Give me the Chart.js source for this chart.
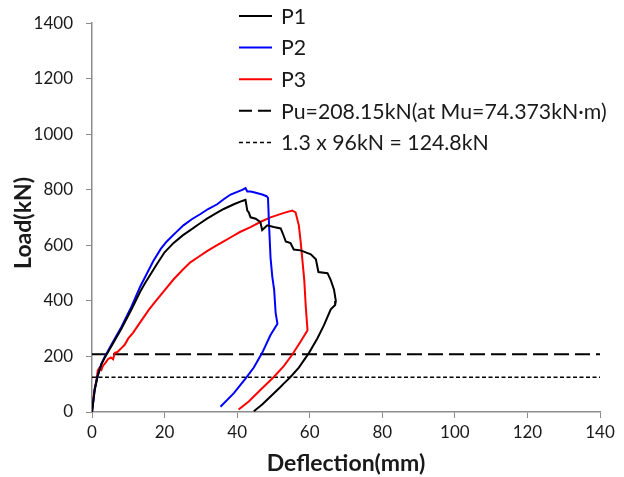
<!DOCTYPE html>
<html>
<head>
<meta charset="utf-8">
<script src="https://cdn.jsdelivr.net/npm/chart.js@4"></script>
<style>
  html, body { margin: 0; padding: 0; background: #fff; }
  #wrap { width: 624px; height: 477px; }
</style>
</head>
<body>
<div id="wrap"><canvas id="chart"></canvas></div>
<script>
// --- data (deflection mm / load kN) ---
const p1X = [0, 0.75, 1.5, 2.6, 3.5, 5.3, 8.1, 10.9, 13.3, 14.6, 17.9, 20, 22.5, 25, 27.1, 29.5, 31.7, 34, 36.3, 39.1, 41.4, 42.3, 42.8, 43.2, 43.7, 45.1, 46.4, 46.9, 48.3, 50.1, 52, 52.9, 53.4, 54.7, 55.6, 57.5, 60.3, 61.7, 62.4, 64.9, 65.8, 66.7, 67.2, 67, 65.8, 63.9, 62.1, 59.8, 57, 54.7, 52.9, 52, 49.2, 46.9, 44.6];
const p1Y = [0, 80, 126, 172, 195, 236, 300, 370, 434, 464, 533, 575, 609, 636, 655, 677, 696, 714, 731, 748, 760, 764, 725, 719, 701, 696, 684, 655, 672, 666, 661, 632, 614, 608, 585, 582, 568, 550, 504, 500, 475, 440, 400, 385, 370, 312, 265, 213, 160, 126, 103, 91, 56, 27, 3];

const p2X = [0, 0.75, 1.5, 2.6, 3.5, 5.3, 8.1, 10.9, 13.3, 16.9, 19, 20.6, 23, 25.2, 27.5, 29.9, 32, 34.5, 36.3, 38.2, 41.4, 42.3, 42.8, 43.7, 44.6, 46.9, 48.1, 48.5, 48.8, 49.2, 49.7, 50.2, 50.6, 51.1, 49.2, 46.9, 44.6, 42.3, 39.1, 35.4];
const p2Y = [0, 82, 128, 174, 198, 241, 306, 380, 452, 544, 588, 614, 645, 672, 694, 713, 731, 748, 766, 783, 800, 806, 794, 794, 791, 783, 777, 771, 672, 556, 486, 440, 358, 318, 277, 213, 160, 120, 68, 19];

const p3X = [0, 0.55, 1.2, 1.6, 2.1, 2.6, 3, 3.6, 4.4, 5.2, 5.8, 6.3, 7, 8.1, 9, 10, 11.3, 12.7, 15.5, 17, 20.1, 22.5, 25, 27.1, 29.5, 31.7, 34, 36.3, 38.5, 40.9, 43.7, 46.5, 49.2, 52.9, 55.2, 56.1, 57, 57.5, 58, 58.5, 58.9, 59.4, 57.5, 55.2, 52.9, 50.1, 46.4, 43.2, 40.4];
const p3Y = [0, 68, 114, 150, 160, 152, 166, 175, 190, 196, 190, 213, 216, 230, 242, 265, 285, 312, 365, 390, 440, 478, 512, 539, 560, 579, 597, 614, 631, 649, 666, 685, 701, 717, 725, 719, 672, 614, 544, 475, 382, 294, 254, 207, 166, 126, 79, 38, 9];

const puLoad = 208.15;
const serviceLoad = 124.8;
const lineSpanX = [0, 140];

const seriesLabels = ['P1', 'P2', 'P3', 'Pu=208.15kN(at Mu=74.373kN·m)', '1.3 x 96kN = 124.8kN'];
const xTicks = { min: 0, max: 140, step: 20 };
const yTicks = { min: 0, max: 1400, step: 200 };
const yTitle = 'Load(kN)';
const xTitle = 'Deflection(mm)';

function zip(xs, ys) {
    return xs.map((x, i) => ({ x: x, y: ys[i] }));
}

const FONT = 'Lato, "Open Sans", sans-serif';
const TEXT = '#1a1a1a';
const AXIS = '#8c8c8c';

// legend inside the plot + the y title, drawn by hand
const insideLegend = {
    id: 'insideLegend',
    afterDraw(chart) {
        const ctx = chart.ctx;
        const x0 = 239, x1 = 272, tx = 281;
        let y = 16;
        ctx.save();
        ctx.font = '21.3px ' + FONT;
        ctx.textBaseline = 'middle';
        chart.data.datasets.forEach(ds => {
            ctx.beginPath();
            ctx.strokeStyle = ds.borderColor;
            ctx.lineWidth = ds.borderWidth;
            ctx.setLineDash(ds.legendDash || []);
            ctx.moveTo(x0, y);
            ctx.lineTo(x1, y);
            ctx.stroke();
            ctx.setLineDash([]);
            ctx.fillStyle = TEXT;
            ctx.fillText(ds.label, tx, y + 1);
            y += 31.6;
        });
        // y axis title
        ctx.translate(24, 223);
        ctx.rotate(-Math.PI / 2);
        ctx.font = 'bold 23px ' + FONT;
        ctx.textAlign = 'center';
        ctx.fillText(yTitle, 0, 0);
        ctx.restore();
    }
};

window.addEventListener('load', function () {
    const ctx = document.querySelector('#chart');
    new Chart(ctx, {
        type: 'scatter',
        data: {
            datasets: [
                { label: seriesLabels[0], data: zip(p1X, p1Y), borderColor: '#000000', borderWidth: 2 },
                { label: seriesLabels[1], data: zip(p2X, p2Y), borderColor: '#0000ff', borderWidth: 2 },
                { label: seriesLabels[2], data: zip(p3X, p3Y), borderColor: '#ff0000', borderWidth: 2 },
                { label: seriesLabels[3], data: zip(lineSpanX, [puLoad, puLoad]), borderColor: '#000000', borderWidth: 2,
                  borderDash: [15, 6], legendDash: [13, 6] },
                { label: seriesLabels[4], data: zip(lineSpanX, [serviceLoad, serviceLoad]), borderColor: '#000000', borderWidth: 1.5,
                  borderDash: [4, 2.5], legendDash: [4, 3] }
            ].map(ds => Object.assign({ showLine: true, pointRadius: 0, fill: false, tension: 0 }, ds))
        },
        options: {
            responsive: true,
            maintainAspectRatio: false,
            animation: false,
            layout: { padding: { top: 12, right: 24, left: 0, bottom: 0 } },
            plugins: { legend: { display: false }, tooltip: { enabled: false } },
            scales: {
                x: {
                    type: 'linear',
                    min: xTicks.min, max: xTicks.max,
                    afterFit: s => { s.height = 65; },
                    ticks: { stepSize: xTicks.step, color: TEXT, font: { family: FONT, size: 17 }, padding: 4, maxRotation: 0 },
                    grid: { drawOnChartArea: false, drawTicks: true, tickLength: 6, color: AXIS },
                    border: { color: AXIS, width: 1.5 },
                    title: { display: true, text: xTitle, color: TEXT, font: { family: FONT, size: 23, weight: 'bold' }, padding: { top: 0, bottom: 0 } }
                },
                y: {
                    type: 'linear',
                    min: yTicks.min, max: yTicks.max,
                    afterFit: s => { s.width = 92; },
                    ticks: { stepSize: yTicks.step, color: TEXT, font: { family: FONT, size: 17 }, padding: 13,
                             callback: v => String(v) },
                    grid: { drawOnChartArea: false, drawTicks: true, tickLength: 6, color: AXIS },
                    border: { color: AXIS, width: 1.5 }
                }
            }
        },
        plugins: [insideLegend]
    });
}, false);
</script>
</body>
</html>
